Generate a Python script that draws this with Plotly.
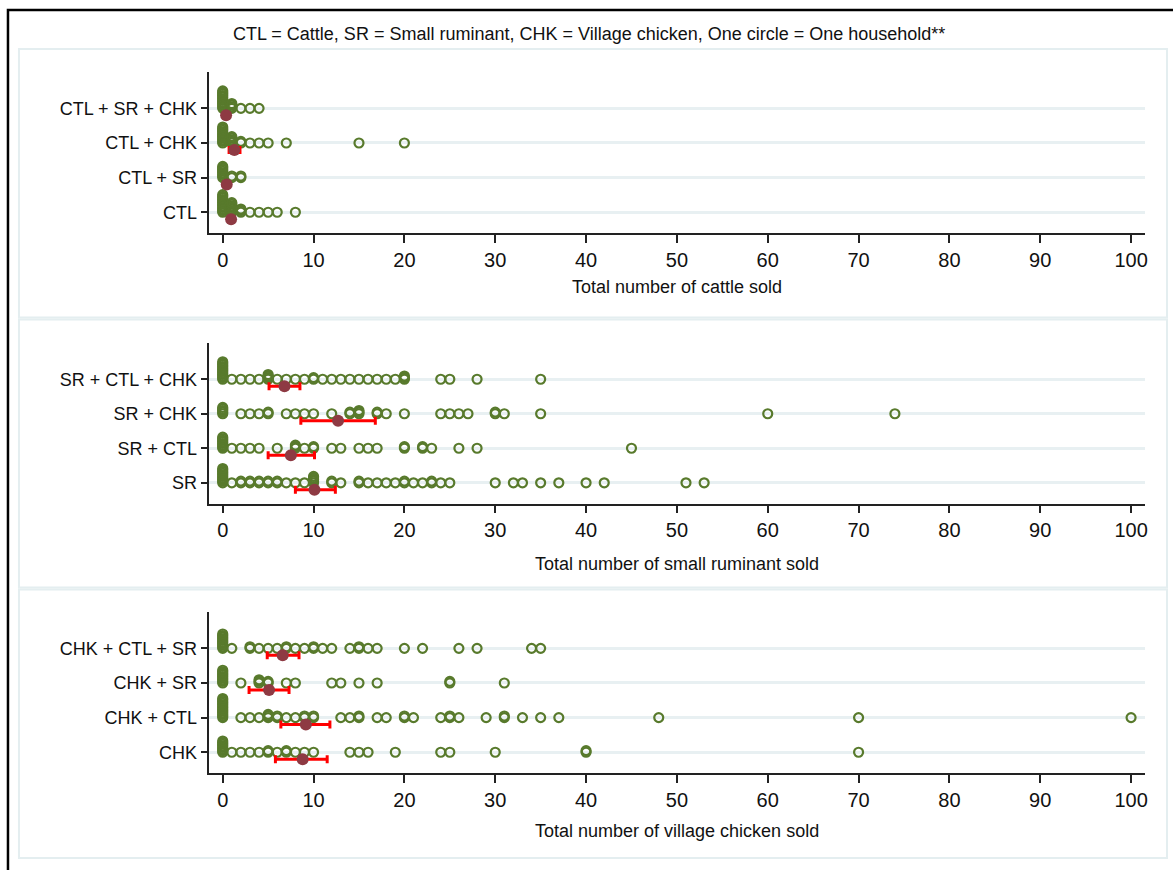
import plotly.graph_objects as go

# ---------------------------------------------------------------------------
# Households: distinct values sold and how many households sold that amount
# ---------------------------------------------------------------------------
# Cattle sold
CTL_SR_CHK_VALS = [0, 1, 2, 3, 4]
CTL_SR_CHK_CNTS = [12, 4, 1, 1, 1]
CTL_CHK_VALS = [0, 1, 2, 3, 4, 5, 7, 15, 20]
CTL_CHK_CNTS = [11, 5, 2, 1, 1, 1, 1, 1, 1]
CTL_SR_VALS = [0, 1, 2]
CTL_SR_CNTS = [8, 2, 2]
CTL_VALS = [0, 1, 2, 3, 4, 5, 6, 8]
CTL_CNTS = [12, 7, 3, 1, 1, 1, 1, 1]

# Small ruminants sold
SR_CTL_CHK_VALS = [0, 1, 2, 3, 4, 5, 6, 7, 8, 9, 10, 11, 12, 13, 14, 15, 16, 17, 18, 19, 20, 24, 25, 28, 35]
SR_CTL_CHK_CNTS = [12, 1, 1, 1, 1, 4, 1, 1, 1, 1, 2, 1, 1, 1, 1, 1, 1, 1, 1, 1, 3, 1, 1, 1, 1]
SR_CHK_VALS = [0, 2, 3, 4, 5, 7, 8, 9, 10, 12, 14, 15, 17, 18, 20, 24, 25, 26, 27, 30, 31, 35, 60, 74]
SR_CHK_CNTS = [5, 1, 1, 1, 2, 1, 1, 1, 1, 1, 2, 3, 2, 1, 1, 1, 1, 1, 1, 2, 1, 1, 1, 1]
SR_CTL_VALS = [0, 1, 2, 3, 4, 6, 8, 9, 10, 12, 13, 15, 16, 17, 20, 22, 23, 26, 28, 45]
SR_CTL_CNTS = [8, 1, 1, 1, 1, 1, 3, 1, 2, 1, 1, 1, 1, 1, 2, 2, 1, 1, 1, 1]
SR_VALS = [0, 1, 2, 3, 4, 5, 6, 7, 8, 9, 10, 12, 13, 15, 16, 17, 18, 19, 20, 21, 22, 23, 24, 25,
           30, 32, 33, 35, 37, 40, 42, 51, 53]
SR_CNTS = [10, 1, 2, 2, 2, 2, 2, 1, 1, 1, 5, 2, 1, 2, 1, 1, 1, 1, 2, 1, 1, 2, 1, 1,
           1, 1, 1, 1, 1, 1, 1, 1, 1]

# Village chickens sold
CHK_CTL_SR_VALS = [0, 1, 3, 4, 5, 6, 7, 8, 9, 10, 11, 12, 14, 15, 16, 17, 20, 22, 26, 28, 34, 35]
CHK_CTL_SR_CNTS = [10, 1, 2, 1, 1, 1, 2, 1, 1, 2, 1, 1, 1, 2, 1, 1, 1, 1, 1, 1, 1, 1]
CHK_SR_VALS = [0, 2, 4, 5, 7, 8, 12, 13, 15, 17, 25, 31]
CHK_SR_CNTS = [9, 1, 3, 2, 1, 1, 1, 1, 1, 1, 2, 1]
CHK_CTL_VALS = [0, 2, 3, 4, 5, 6, 7, 8, 9, 10, 13, 14, 15, 17, 18, 20, 21, 24, 25, 26, 29, 31, 33,
                35, 37, 48, 70, 100]
CHK_CTL_CNTS = [13, 1, 1, 1, 3, 2, 1, 1, 2, 2, 1, 1, 2, 1, 1, 2, 1, 1, 2, 1, 1, 2, 1,
                1, 1, 1, 1, 1]
CHK_VALS = [0, 1, 2, 3, 4, 5, 6, 7, 8, 9, 10, 14, 15, 16, 19, 24, 25, 30, 40, 70]
CHK_CNTS = [8, 1, 1, 1, 1, 2, 1, 2, 1, 1, 1, 1, 1, 1, 1, 1, 1, 1, 2, 1]

# Group means with 95% confidence limits (rows listed top to bottom)
CATTLE_MEAN = [0.37, 1.28, 0.44, 0.92]
CATTLE_LO = [0.20, 0.70, 0.22, 0.65]
CATTLE_HI = [0.55, 1.90, 0.66, 1.20]
SR_MEAN = [6.8, 12.7, 7.5, 10.1]
SR_LO = [5.1, 8.6, 5.0, 8.0]
SR_HI = [8.5, 16.8, 10.1, 12.4]
CHK_MEAN = [6.6, 5.1, 9.15, 8.8]
CHK_LO = [4.9, 2.9, 6.4, 5.8]
CHK_HI = [8.4, 7.3, 11.8, 11.5]

CATTLE_ROWS = ["CTL + SR + CHK", "CTL + CHK", "CTL + SR", "CTL"]
SR_ROWS = ["SR + CTL + CHK", "SR + CHK", "SR + CTL", "SR"]
CHK_ROWS = ["CHK + CTL + SR", "CHK + SR", "CHK + CTL", "CHK"]

X_TICKS = [0, 10, 20, 30, 40, 50, 60, 70, 80, 90, 100]
TITLE = "CTL = Cattle, SR = Small ruminant, CHK = Village chicken, One circle = One household**"

# ---------------------------------------------------------------------------
W, H = 1173, 870
GREEN = "#587a2c"
MAROON = "#8e3a43"
RED = "#ff0000"
GRID = "#e8f0f2"
PANEL_EDGE = "#e4eef0"
FONT = "Arial, Liberation Sans, sans-serif"

STACK_STEP = 0.046   # vertical offset between households with the same value
MEAN_SHIFT = 0.2     # means drawn just below each row

panels = [
    dict(rows=CATTLE_ROWS,
         data=[(CTL_SR_CHK_VALS, CTL_SR_CHK_CNTS), (CTL_CHK_VALS, CTL_CHK_CNTS),
               (CTL_SR_VALS, CTL_SR_CNTS), (CTL_VALS, CTL_CNTS)],
         mean=CATTLE_MEAN, lo=CATTLE_LO, hi=CATTLE_HI,
         xtitle="Total number of cattle sold",
         ypx=(72, 233), title_y=287, box=(49, 317.5)),
    dict(rows=SR_ROWS,
         data=[(SR_CTL_CHK_VALS, SR_CTL_CHK_CNTS), (SR_CHK_VALS, SR_CHK_CNTS),
               (SR_CTL_VALS, SR_CTL_CNTS), (SR_VALS, SR_CNTS)],
         mean=SR_MEAN, lo=SR_LO, hi=SR_HI,
         xtitle="Total number of small ruminant sold",
         ypx=(343, 503.5), title_y=564, box=(319.5, 587.5)),
    dict(rows=CHK_ROWS,
         data=[(CHK_CTL_SR_VALS, CHK_CTL_SR_CNTS), (CHK_SR_VALS, CHK_SR_CNTS),
               (CHK_CTL_VALS, CHK_CTL_CNTS), (CHK_VALS, CHK_CNTS)],
         mean=CHK_MEAN, lo=CHK_LO, hi=CHK_HI,
         xtitle="Total number of village chicken sold",
         ypx=(612, 773), title_y=831, box=(589.5, 858)),
]

X_LEFT, X_RIGHT = 210, 1148
X_RANGE = [-1.46, 101.54]
Y_RANGE = [0.4, 5.05]

fig = go.Figure()
layout_axes = {}
shapes = []
annotations = []

for i, p in enumerate(panels):
    k = "" if i == 0 else str(i + 1)
    xref, yref = "x" + k, "y" + k
    n = len(p["rows"])
    row_y = [n - j for j in range(n)]  # first listed row on top

    # Box behind each panel
    shapes.append(dict(type="rect", xref="paper", yref="paper", layer="below",
                       x0=19 / W, x1=1170 / W,
                       y0=1 - p["box"][1] / H, y1=1 - p["box"][0] / H,
                       line=dict(color=PANEL_EDGE, width=2), fillcolor="white"))

    # One hollow circle per household, stacked upward for repeated values
    xs, ys = [], []
    for j, (vals, cnts) in enumerate(p["data"]):
        for v, c in zip(vals, cnts):
            for s in range(c):
                xs.append(v)
                ys.append(row_y[j] + s * STACK_STEP)
    fig.add_trace(go.Scatter(
        x=xs, y=ys, mode="markers", xaxis=xref, yaxis=yref, showlegend=False,
        hoverinfo="x",
        marker=dict(symbol="circle-open", size=9, color=GREEN,
                    line=dict(width=2.2, color=GREEN)),
        cliponaxis=False))

    # Group means with confidence intervals
    fig.add_trace(go.Scatter(
        x=p["mean"], y=[r - MEAN_SHIFT for r in row_y], mode="markers",
        xaxis=xref, yaxis=yref, showlegend=False,
        marker=dict(symbol="circle", size=12, color=MAROON),
        error_x=dict(type="data", symmetric=False,
                     array=[h - m for h, m in zip(p["hi"], p["mean"])],
                     arrayminus=[m - l for m, l in zip(p["mean"], p["lo"])],
                     color=RED, thickness=3, width=4),
        cliponaxis=False))

    y0px, y1px = p["ypx"]
    layout_axes["xaxis" + k] = dict(
        domain=[X_LEFT / W, X_RIGHT / W], anchor=yref, range=X_RANGE,
        tickvals=X_TICKS, ticks="outside", ticklen=8, tickwidth=1.5,
        tickcolor="#222", showline=True, linecolor="#222", linewidth=1.5,
        showgrid=False, zeroline=False,
        tickfont=dict(family=FONT, size=20, color="#111"))
    layout_axes["yaxis" + k] = dict(
        domain=[1 - y1px / H, 1 - y0px / H], anchor=xref, range=Y_RANGE,
        tickvals=row_y, ticktext=p["rows"], ticks="outside", ticklen=7,
        tickwidth=1.5, tickcolor="#222", showline=True, linecolor="#222",
        linewidth=1.5, showgrid=True, gridcolor=GRID, gridwidth=2.5,
        zeroline=False, tickfont=dict(family=FONT, size=18, color="#111"))

    annotations.append(dict(
        text=p["xtitle"], xref="paper", yref="paper",
        x=(X_LEFT + X_RIGHT) / 2 / W, y=1 - p["title_y"] / H,
        xanchor="center", yanchor="middle", showarrow=False,
        font=dict(family=FONT, size=18, color="#111")))

annotations.append(dict(
    text=TITLE, xref="paper", yref="paper", x=591 / W, y=1 - 34 / H,
    xanchor="center", yanchor="middle", showarrow=False,
    font=dict(family=FONT, size=18, color="#111")))

# Outer frame of the graph region
shapes.append(dict(type="rect", xref="paper", yref="paper", layer="above",
                   x0=8 / W, x1=1190 / W, y0=-20 / H, y1=1 - 10 / H,
                   line=dict(color="black", width=2.5)))

fig.update_layout(
    width=W, height=H, margin=dict(l=0, r=0, t=0, b=0),
    paper_bgcolor="white", plot_bgcolor="rgba(0,0,0,0)",
    shapes=shapes, annotations=annotations, **layout_axes)

fig.write_html("out.html")
